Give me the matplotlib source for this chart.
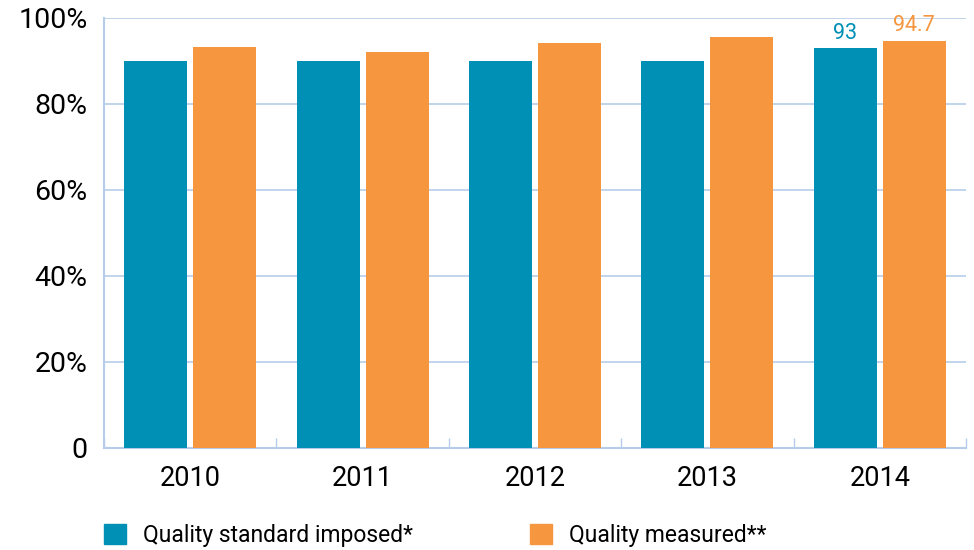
import matplotlib
matplotlib.use("Agg")
import matplotlib.pyplot as plt
import numpy as np
from matplotlib.patches import Patch

# Data
years = ["2010", "2011", "2012", "2013", "2014"]
standard = [90, 90, 90, 90, 93]
measured = [93.3, 92, 94.3, 95.6, 94.7]
y_ticks = [0, 20, 40, 60, 80, 100]
y_labels = ["0", "20%", "40%", "60%", "80%", "100%"]

teal = "#008fb5"
orange = "#f6963e"
grid_col = "#b5cdea"

plt.rcParams['font.family'] = ['Roboto', 'DejaVu Sans']

fig = plt.figure(figsize=(9.74, 5.5), dpi=100)
ax = fig.add_axes([104 / 974, 102 / 550, 862 / 974, 430 / 550])

x = np.arange(len(years))
w = 0.365
ax.bar(x - 0.2, standard, width=w, color=teal, zorder=3)
ax.bar(x + 0.2, measured, width=w, color=orange, zorder=3)

# value labels on the last year only, as in the original
ax.text(x[-1] - 0.2, standard[-1] + 1, "93", color=teal, ha="center", va="bottom", fontsize=15.5)
ax.text(x[-1] + 0.2, measured[-1] + 1, f"{measured[-1]}", color=orange, ha="center", va="bottom", fontsize=15.5)

ax.set_xlim(-0.5, len(years) - 0.5)
ax.set_ylim(0, 100)
ax.set_yticks(y_ticks)
ax.set_yticklabels(y_labels, fontsize=20.5)
ax.set_xticks(x)
ax.set_xticklabels(years, fontsize=19.5)
ax.set_xticks(np.arange(-0.5, len(years)), minor=True)
ax.tick_params(axis='x', which='major', length=0, pad=12)
ax.tick_params(axis='x', which='minor', direction='in', length=7, color=grid_col, width=1)
ax.tick_params(axis='y', length=0, pad=12)

ax.grid(axis='y', color=grid_col, linewidth=1.2, zorder=0)
for side in ["top", "right"]:
    ax.spines[side].set_visible(False)
for side in ["left", "bottom"]:
    ax.spines[side].set_color(grid_col)
    ax.spines[side].set_linewidth(1.5)

handles = [Patch(color=teal, label="Quality standard imposed*"),
           Patch(color=orange, label="Quality measured**")]
fig.legend(handles=handles, loc="lower left", bbox_to_anchor=(101 / 974, 0.0),
           ncol=2, frameon=False, fontsize=16.5, handlelength=0.96, handleheight=0.96,
           handletextpad=0.74, columnspacing=5.13, borderpad=0, borderaxespad=0.12)

fig.savefig("out.png", dpi=100)
